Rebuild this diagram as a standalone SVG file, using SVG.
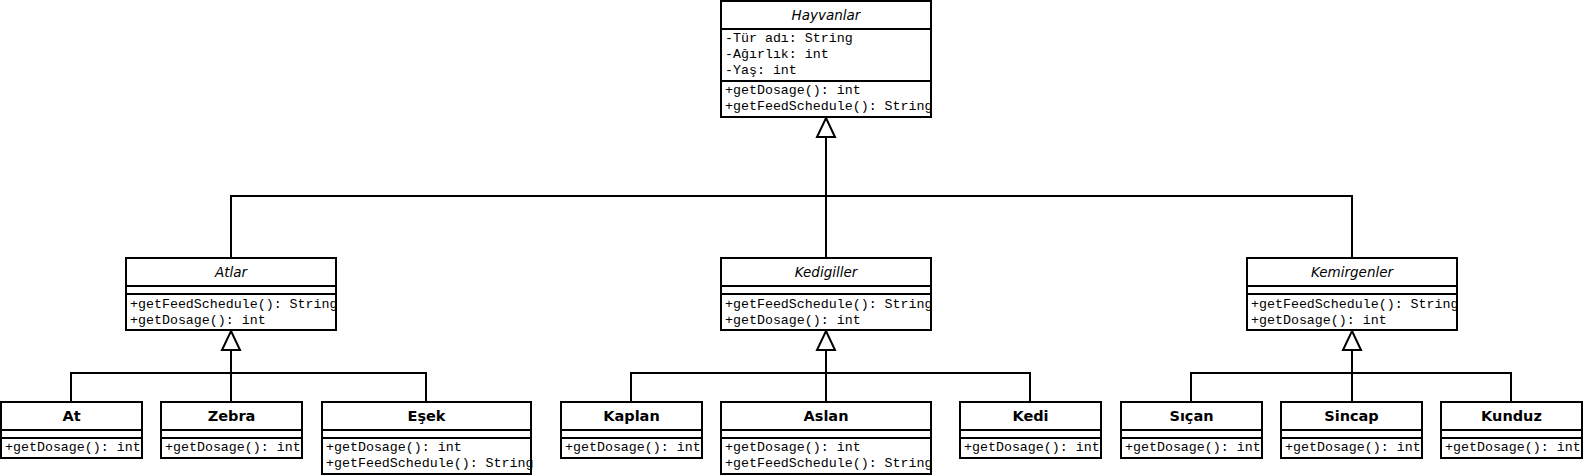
<svg xmlns="http://www.w3.org/2000/svg" width="1583" height="475" viewBox="0 0 1583 475">
<style>
.box{fill:#fff;stroke:#000;stroke-width:2}
.sep{stroke:#000;stroke-width:2;fill:none}
.ttl{font-family:"DejaVu Sans",Verdana,sans-serif;font-style:italic;font-size:13.5px;text-anchor:middle;fill:#000}
.nm{font-family:"DejaVu Sans",Verdana,sans-serif;font-weight:bold;font-size:14.5px;text-anchor:middle;fill:#000}
.m{font-family:"Liberation Mono","Courier New",monospace;font-size:13.3px;fill:#000}
.con{fill:none;stroke:#000;stroke-width:2}
.tri{fill:#fff;stroke:#000;stroke-width:2;stroke-linejoin:miter}
</style>
<rect width="1583" height="475" fill="#fff"/>
<g id="connectors">
<path class="con" d="M231,258 V196 H1352 V258 M826,258 V137"/>
<polygon class="tri" points="826,118 835,137 817,137"/>
<path class="con" d="M231,350 V402 M71,402 V373 H426 V402"/>
<polygon class="tri" points="231,331 240,350 222,350"/>
<path class="con" d="M826,350 V402 M631,402 V373 H1030 V402"/>
<polygon class="tri" points="826,331 835,350 817,350"/>
<path class="con" d="M1352,350 V402 M1191,402 V373 H1511 V402"/>
<polygon class="tri" points="1352,331 1361,350 1343,350"/>
</g>
<g id="Hayvanlar">
<rect class="box" x="721" y="1" width="210" height="116"/>
<path class="sep" d="M721,29 H931 M721,81 H931"/>
<text class="ttl" x="826" y="20">Hayvanlar</text>
<text class="m" x="725" y="42">-Tür adı: String</text>
<text class="m" x="725" y="58">-Ağırlık: int</text>
<text class="m" x="725" y="74">-Yaş: int</text>
<text class="m" x="725" y="94">+getDosage(): int</text>
<text class="m" x="725" y="110">+getFeedSchedule(): String</text>
</g>
<g id="Atlar">
<rect class="box" x="126" y="258" width="210" height="72"/>
<path class="sep" d="M126,286 H336 M126,294 H336"/>
<text class="ttl" x="231" y="277">Atlar</text>
<text class="m" x="130" y="308">+getFeedSchedule(): String</text>
<text class="m" x="130" y="324">+getDosage(): int</text>
</g>
<g id="Kedigiller">
<rect class="box" x="721" y="258" width="210" height="72"/>
<path class="sep" d="M721,286 H931 M721,294 H931"/>
<text class="ttl" x="826" y="277">Kedigiller</text>
<text class="m" x="725" y="308">+getFeedSchedule(): String</text>
<text class="m" x="725" y="324">+getDosage(): int</text>
</g>
<g id="Kemirgenler">
<rect class="box" x="1247" y="258" width="210" height="72"/>
<path class="sep" d="M1247,286 H1457 M1247,294 H1457"/>
<text class="ttl" x="1352" y="277">Kemirgenler</text>
<text class="m" x="1251" y="308">+getFeedSchedule(): String</text>
<text class="m" x="1251" y="324">+getDosage(): int</text>
</g>
<g id="At">
<rect class="box" x="1" y="402" width="141" height="56"/>
<path class="sep" d="M1,430 H142 M1,438 H142"/>
<text class="nm" x="71.5" y="421">At</text>
<text class="m" x="5" y="451">+getDosage(): int</text>
</g>
<g id="Zebra">
<rect class="box" x="161" y="402" width="141" height="56"/>
<path class="sep" d="M161,430 H302 M161,438 H302"/>
<text class="nm" x="231.5" y="421">Zebra</text>
<text class="m" x="165" y="451">+getDosage(): int</text>
</g>
<g id="Esek">
<rect class="box" x="322" y="402" width="209" height="72"/>
<path class="sep" d="M322,430 H531 M322,438 H531"/>
<text class="nm" x="426.5" y="421">Eşek</text>
<text class="m" x="326" y="451">+getDosage(): int</text>
<text class="m" x="326" y="467">+getFeedSchedule(): String</text>
</g>
<g id="Kaplan">
<rect class="box" x="561" y="402" width="141" height="56"/>
<path class="sep" d="M561,430 H702 M561,438 H702"/>
<text class="nm" x="631.5" y="421">Kaplan</text>
<text class="m" x="565" y="451">+getDosage(): int</text>
</g>
<g id="Aslan">
<rect class="box" x="721" y="402" width="210" height="72"/>
<path class="sep" d="M721,430 H931 M721,438 H931"/>
<text class="nm" x="826" y="421">Aslan</text>
<text class="m" x="725" y="451">+getDosage(): int</text>
<text class="m" x="725" y="467">+getFeedSchedule(): String</text>
</g>
<g id="Kedi">
<rect class="box" x="960" y="402" width="141" height="56"/>
<path class="sep" d="M960,430 H1101 M960,438 H1101"/>
<text class="nm" x="1030.5" y="421">Kedi</text>
<text class="m" x="964" y="451">+getDosage(): int</text>
</g>
<g id="Sican">
<rect class="box" x="1121" y="402" width="141" height="56"/>
<path class="sep" d="M1121,430 H1262 M1121,438 H1262"/>
<text class="nm" x="1191.5" y="421">Sıçan</text>
<text class="m" x="1125" y="451">+getDosage(): int</text>
</g>
<g id="Sincap">
<rect class="box" x="1281" y="402" width="141" height="56"/>
<path class="sep" d="M1281,430 H1422 M1281,438 H1422"/>
<text class="nm" x="1351.5" y="421">Sincap</text>
<text class="m" x="1285" y="451">+getDosage(): int</text>
</g>
<g id="Kunduz">
<rect class="box" x="1441" y="402" width="141" height="56"/>
<path class="sep" d="M1441,430 H1582 M1441,438 H1582"/>
<text class="nm" x="1511.5" y="421">Kunduz</text>
<text class="m" x="1445" y="451">+getDosage(): int</text>
</g>
</svg>
